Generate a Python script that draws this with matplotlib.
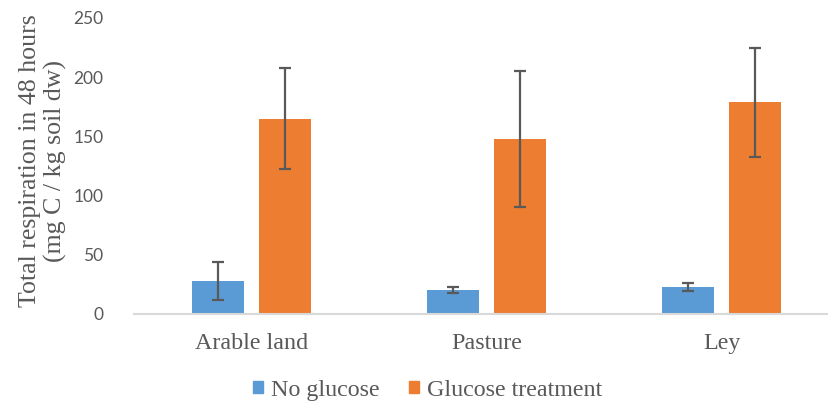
import numpy as np
import matplotlib.pyplot as plt
from matplotlib.patches import Patch

plt.rcParams['font.family'] = 'serif'
plt.rcParams['font.serif'] = ['Liberation Serif', 'DejaVu Serif']

# ====================
# Données
# ====================
categories = ['Arable land', 'Pasture', 'Ley']
series_names = ['No glucose', 'Glucose treatment']
no_glucose = [28, 20.5, 23]
no_glucose_err = [16, 2.5, 3.3]
glucose = [165, 148, 179]
glucose_err = [42.5, 57.5, 46]
y_ticks = [0, 50, 100, 150, 200, 250]

blue = '#5B9BD5'
orange = '#ED7D31'
grey = '#595959'

fig = plt.figure(figsize=(8.29, 4.03), dpi=100)
ax = fig.add_axes([134/829, 89/403, 705/829, 296/403])

x = np.arange(len(categories))
w = 0.222
ebar = dict(ecolor=grey, elinewidth=1.6, capsize=4.5, capthick=1.6)
ax.bar(x - 0.142, no_glucose, w, color=blue, yerr=no_glucose_err, error_kw=ebar)
ax.bar(x + 0.142, glucose, w, color=orange, yerr=glucose_err, error_kw=ebar)

ax.set_xlim(-0.5, 2.5)
ax.set_ylim(0, 250)
ax.set_yticks(y_ticks)
ax.set_yticklabels([str(v) for v in y_ticks], fontfamily='Lato', fontsize=12.5, color=grey)
ax.set_xticks(x)
ax.set_xticklabels(categories, fontfamily='Liberation Serif', fontsize=17.3, color=grey)
ax.tick_params(axis='both', length=0)
ax.tick_params(axis='y', pad=22)
ax.tick_params(axis='x', pad=14)

for s in ['top', 'right', 'left']:
    ax.spines[s].set_visible(False)
ax.spines['bottom'].set_color('#D9D9D9')
ax.spines['bottom'].set_linewidth(1.5)

ax.set_ylabel('Total respiration in 48 hours\n(mg C / kg soil dw)',
              fontsize=18.6, color=grey, linespacing=1.15)
ax.yaxis.set_label_coords(-0.095, 0.517)

handles = [Patch(color=blue), Patch(color=orange)]
fig.legend(handles, series_names, loc='center', bbox_to_anchor=(0.516, 0.032),
           ncol=2, frameon=False, prop={'family': 'Liberation Serif', 'size': 17.3},
           handlelength=0.42, handleheight=0.42, handletextpad=0.35, columnspacing=1.2,
           labelcolor=grey)

fig.savefig('out.png', dpi=100)
